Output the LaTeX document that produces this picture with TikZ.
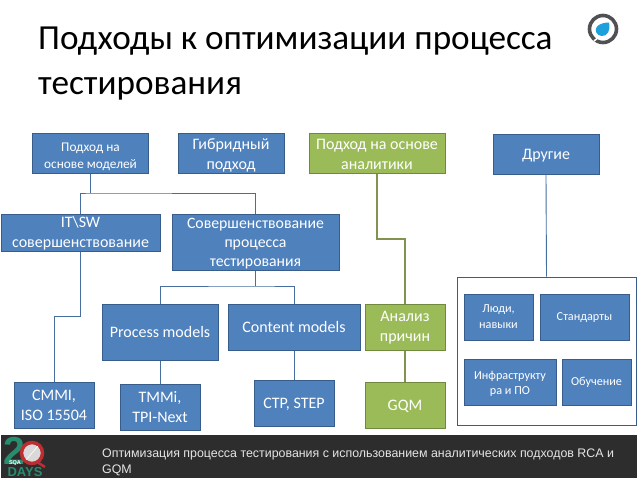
\documentclass[tikz,border=0pt]{standalone}
\usepackage{fontspec}
\setmainfont{Carlito}
\newfontfamily\footfont{Liberation Sans}
\definecolor{BoxBlue}{RGB}{79,129,189}
\definecolor{EdgeBlue}{RGB}{56,93,138}
\definecolor{LinkBlue}{RGB}{70,110,160}
\definecolor{BoxGreen}{RGB}{155,187,89}
\definecolor{EdgeGreen}{RGB}{113,137,63}
\definecolor{LinkGreen}{RGB}{128,148,80}
\definecolor{FootDark}{RGB}{45,45,45}
\definecolor{LogoTeal}{RGB}{40,140,110}
\definecolor{LogoRed}{RGB}{190,45,50}
\definecolor{RingGrey}{RGB}{80,80,85}
\definecolor{DropBlue}{RGB}{30,160,220}
\usetikzlibrary{arrows.meta,positioning,calc}
\tikzset{
  basebox/.style={draw,line width=1pt,text=white,align=center,inner sep=0pt,font=\fontsize{16}{20}\selectfont},
  bluebox/.style={basebox,fill=BoxBlue,draw=EdgeBlue},
  greenbox/.style={basebox,fill=BoxGreen,draw=EdgeGreen},
  smallbox/.style={bluebox,font=\fontsize{12.2}{15.5}\selectfont},
  lowbox/.style={text height=#1,text depth=0pt},
  bluelink/.style={LinkBlue,line width=0.9pt},
  greenlink/.style={LinkGreen,line width=1.3pt},
}
\begin{document}
\begin{tikzpicture}[x=1pt,y=-1pt]
\useasboundingbox (0,0) rectangle (638,479);
\fill[white] (0,0) rectangle (638,479);
% Title
\node (title) [anchor=north west,align=left,inner sep=0pt,font=\fontsize{35.2}{45}\selectfont] at (38,27) {Подходы к оптимизации процесса\\тестирования};
% Top row
\node (modeli) [bluebox,lowbox=30pt,minimum width=116pt,minimum height=40pt,font=\fontsize{13.3}{17.5}\selectfont] at (90.5,153.5) {Подход на\\основе моделей};
\node (gibrid) [bluebox,lowbox=31pt,minimum width=106pt,minimum height=40pt] at (231,153.5) {Гибридный\\подход};
\node (analitika) [greenbox,lowbox=31pt,minimum width=136pt,minimum height=40pt] at (377,153.5) {Подход на основе\\аналитики};
\node (drugie) [bluebox,lowbox=10pt,minimum width=106pt,minimum height=40pt] at (546,154) {Другие};
% Second row
\node (itsw) [bluebox,lowbox=29pt,minimum width=159pt,minimum height=37pt] at (80.5,232.5) {IT\textbackslash SW\\совершенствование};
\node (sover) [bluebox,lowbox=48pt,minimum width=167pt,minimum height=56pt,font=\fontsize{15.8}{19}\selectfont] at (255.5,242) {Совершенствование\\процесса\\тестирования};
% Third row
\node (process) [bluebox,lowbox=11pt,minimum width=116pt,minimum height=56pt] at (160,332) {Process models};
\node (content) [bluebox,lowbox=11pt,minimum width=132pt,minimum height=46pt] at (294,327) {Content models};
\node (analiz) [greenbox,lowbox=28pt,minimum width=80pt,minimum height=46pt] at (405,327) {Анализ\\причин};
% Bottom row
\node (cmmi) [bluebox,lowbox=30pt,minimum width=80pt,minimum height=46pt] at (54,405) {CMMI,\\ISO 15504};
\node (tmmi) [bluebox,lowbox=30pt,minimum width=80pt,minimum height=46pt] at (160,407) {TMMi,\\TPI-Next};
\node (ctp) [bluebox,lowbox=10pt,minimum width=80pt,minimum height=46pt] at (294,403) {CTP, STEP};
\node (gqm) [greenbox,lowbox=10pt,minimum width=80pt,minimum height=46pt] at (405,405) {GQM};
% Other group
\node (gruppa) [draw=EdgeBlue,fill=white,line width=1pt,minimum width=179pt,minimum height=148pt,inner sep=0pt] at (546.5,351) {};
\node (lyudi) [smallbox,lowbox=22pt,minimum width=69pt,minimum height=46pt] at (498.5,317) {Люди,\\навыки};
\node (standart) [smallbox,lowbox=6pt,minimum width=89pt,minimum height=46pt] at (584.5,317) {Стандарты};
\node (infra) [smallbox,lowbox=25pt,minimum width=92pt,minimum height=46pt] at (510,382) {Инфраструкту\\ра и ПО};
\node (obuch) [smallbox,lowbox=6pt,minimum width=69pt,minimum height=46pt] at (596.5,382) {Обучение};
% Connectors
\coordinate (forkmod) at (90.5,193);
\coordinate (forksov) at (255.5,286);
\coordinate (stepit) at (54,316);
\coordinate (stepan) at (377,239);
\draw[bluelink] (modeli.south) -- (forkmod);
\draw[bluelink] (itsw.north) |- (forkmod) -| (sover.north);
\draw[bluelink] (sover.south) -- (forksov);
\draw[bluelink] (process.north) |- (forksov) -| (content.north);
\draw[bluelink] (itsw.south) |- (stepit) -| (cmmi.north);
\draw[bluelink] (process.south) -- (tmmi.north);
\draw[bluelink] (content.south) -- (ctp.north);
\draw[bluelink] (drugie.south) -- (gruppa.north);
\draw[greenlink] (analitika.south) |- (stepan) -| (analiz.north);
\draw[greenlink] (analiz.south) -- (gqm.north);
% Footer band
\fill[FootDark] (1,435) rectangle (637,478);
\node (podpis) [anchor=north west,align=left,inner sep=0pt,text=white!90!black,font=\footfont\fontsize{12.4}{16}\selectfont] at (102,448.5) {Оптимизация процесса тестирования с использованием аналитических подходов RCA и\\GQM};
% Footer logo
\node (dva) [inner sep=0pt,text=LogoTeal,font=\footfont\bfseries\fontsize{39}{39}\selectfont] at (14,450.5) {2};
\draw[LogoRed,line width=3.5pt,fill=white!85!black] (32,453) circle (10.5pt);
\draw[LogoRed,line width=2.5pt] (37,462) -- (45,467);
\draw[white,line width=0.6pt] (26,460) -- (38,446);
\node (sqa) [inner sep=0pt,text=white,font=\footfont\bfseries\fontsize{5.5}{6}\selectfont] at (15,463) {SQA};
\node (days) [inner sep=0pt,text=LogoTeal,font=\footfont\bfseries\fontsize{13}{13}\selectfont] at (25,472.5) {DAYS};
% Corner logo
\draw[RingGrey,line width=3.6pt] (603,29) circle (13.5pt);
\draw[white,line width=1.6pt] (594,41) -- (599,37);
\fill[DropBlue] (609,22.5) .. controls (611,31) and (607,36.5) .. (601.5,36) .. controls (596.5,35.5) and (594,30) .. (597,26.5) .. controls (600,23.5) and (605,22.5) .. (609,22.5);
\end{tikzpicture}
\end{document}
